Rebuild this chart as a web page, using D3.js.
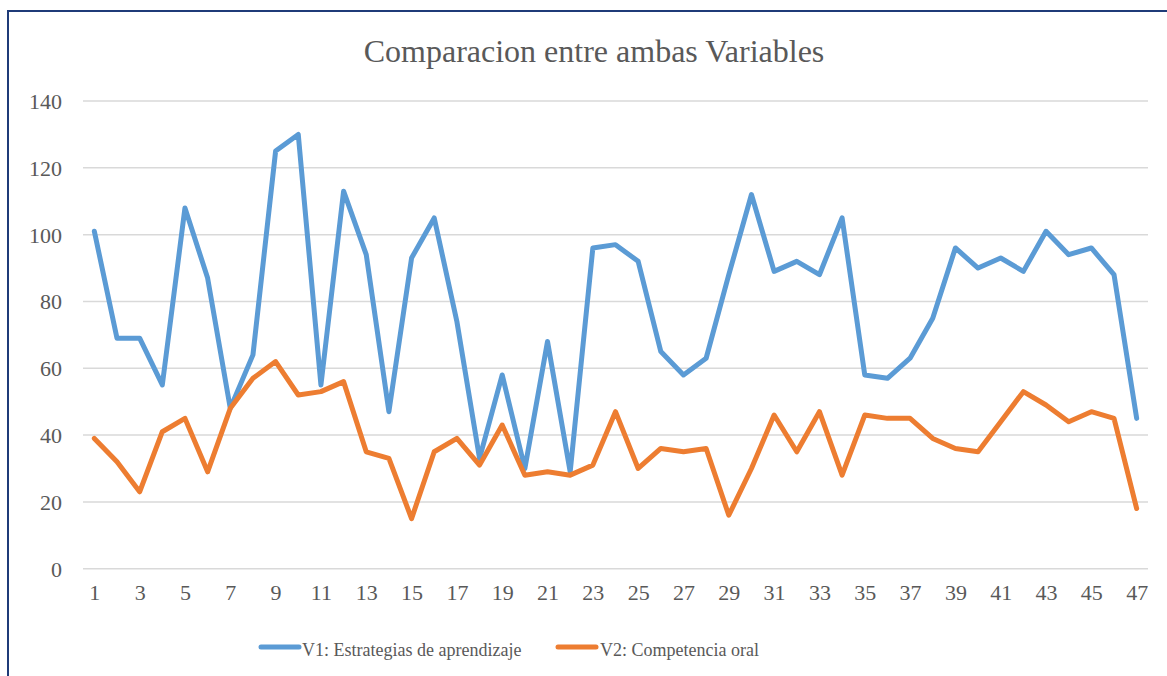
<!DOCTYPE html>
<html>
<head>
<meta charset="utf-8">
<script src="https://cdn.jsdelivr.net/npm/d3@7"></script>
<style>
  html, body { margin: 0; padding: 0; background: #fff; }
  svg { display: block; }
  text { font-family: "Liberation Serif", "Times New Roman", serif; fill: #595959; }
</style>
</head>
<body>
<svg id="chart" width="1167" height="676"></svg>
<script>
const categories = d3.range(1, 48);
const v1 = [101, 69, 69, 55, 108, 87, 48, 64, 125, 130, 55, 113, 94, 47, 93, 105, 74, 33, 58, 30,
            68, 29, 96, 97, 92, 65, 58, 63, 88, 112, 89, 92, 88, 105, 58, 57, 63, 75, 96, 90,
            93, 89, 101, 94, 96, 88, 45];
const v2 = [39, 32, 23, 41, 45, 29, 48, 57, 62, 52, 53, 56, 35, 33, 15, 35, 39, 31, 43, 28,
            29, 28, 31, 47, 30, 36, 35, 36, 16, 30, 46, 35, 47, 28, 46, 45, 45, 39, 36, 35,
            44, 53, 49, 44, 47, 45, 18];
const yTicks = [0, 20, 40, 60, 80, 100, 120, 140];
const xTickLabels = categories.filter(c => c % 2 === 1);
const seriesNames = ["V1: Estrategias de aprendizaje", "V2: Competencia oral"];
const seriesColors = ["#5B9BD5", "#ED7D31"];
const title = "Comparacion entre ambas Variables";

const svg = d3.select("#chart");

// chart border
svg.append("rect")
  .attr("x", 8).attr("y", 11)
  .attr("width", 1200).attr("height", 720)
  .attr("fill", "none")
  .attr("stroke", "#1F3B78")
  .attr("stroke-width", 2);

const x = d3.scalePoint().domain(categories).range([83, 1148]).padding(0.5);
const y = d3.scaleLinear().domain([0, 140]).range([568.7, 101]);

// gridlines
svg.append("g").selectAll("line").data(yTicks).join("line")
  .attr("x1", 83).attr("x2", 1148)
  .attr("y1", d => y(d)).attr("y2", d => y(d))
  .attr("stroke", "#D9D9D9").attr("stroke-width", 1.5);

// y axis labels
const yAxis = d3.axisLeft(y).tickValues(yTicks).tickSize(0).tickPadding(0);
const gy = svg.append("g").attr("transform", "translate(62,0)").call(yAxis);
gy.select(".domain").remove();
gy.selectAll("text")
  .attr("font-family", "Liberation Serif, Times New Roman, serif")
  .style("font-size", "22px").attr("fill", "#595959").attr("dy", "0.34em");

// x axis labels
const xAxis = d3.axisBottom(x).tickValues(xTickLabels).tickSize(0).tickPadding(0);
const gx = svg.append("g").attr("transform", "translate(0,584)").call(xAxis);
gx.select(".domain").remove();
gx.selectAll("text")
  .attr("font-family", "Liberation Serif, Times New Roman, serif")
  .style("font-size", "22px").attr("fill", "#595959").attr("dy", "0.71em");

// lines
const line = d3.line().x((d, i) => x(categories[i])).y(d => y(d));
[v1, v2].forEach((s, i) => {
  svg.append("path")
    .datum(s)
    .attr("d", line)
    .attr("fill", "none")
    .attr("stroke", seriesColors[i])
    .attr("stroke-width", 5)
    .attr("stroke-linejoin", "round")
    .attr("stroke-linecap", "round");
});

// title
svg.append("text")
  .attr("x", 594).attr("y", 62)
  .attr("text-anchor", "middle")
  .style("font-size", "32px")
  .text(title);

// legend
const legendItems = [
  { name: seriesNames[0], color: seriesColors[0], lx: 261, tx: 302 },
  { name: seriesNames[1], color: seriesColors[1], lx: 558, tx: 600 }
];
const lg = svg.append("g");
legendItems.forEach(it => {
  lg.append("line")
    .attr("x1", it.lx).attr("x2", it.lx + 38)
    .attr("y1", 647).attr("y2", 647)
    .attr("stroke", it.color).attr("stroke-width", 5)
    .attr("stroke-linecap", "round");
  lg.append("text")
    .attr("x", it.tx).attr("y", 656)
    .style("font-size", "18px")
    .text(it.name);
});
</script>
</body>
</html>
